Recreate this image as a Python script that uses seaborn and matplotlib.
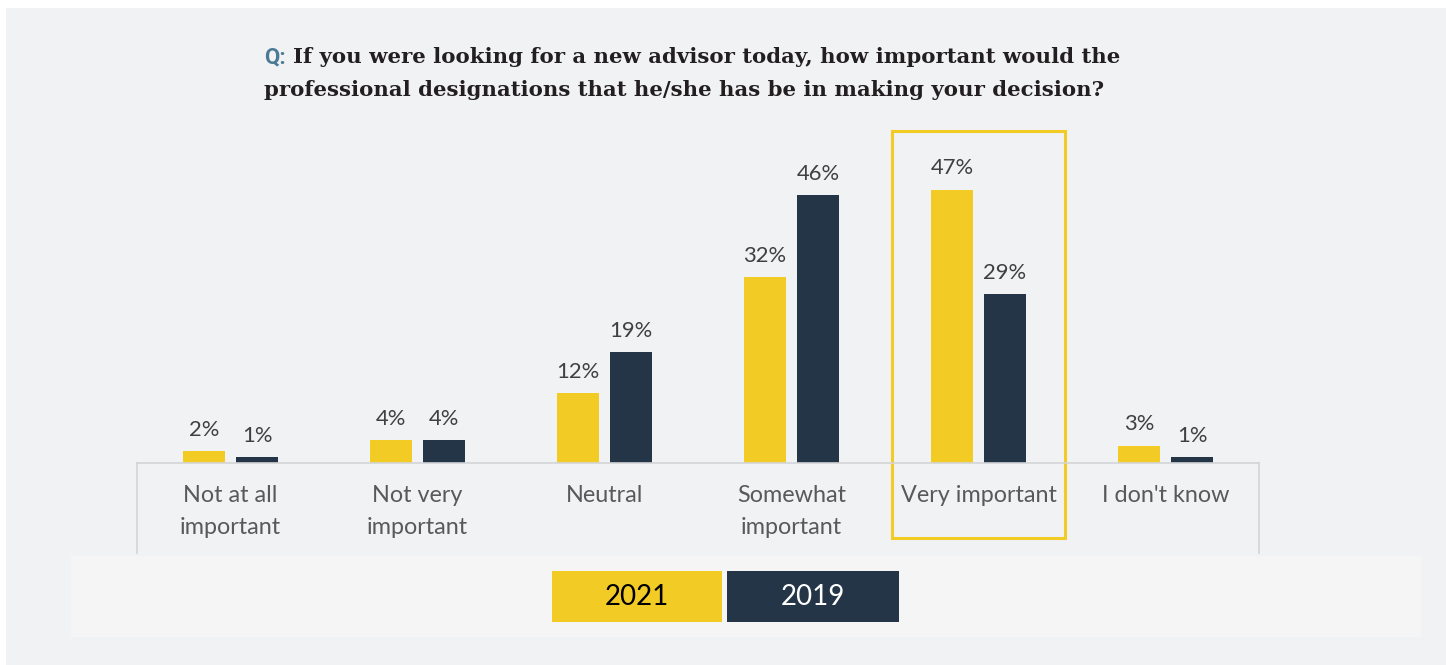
import matplotlib
matplotlib.use("Agg")
import matplotlib.pyplot as plt
from matplotlib.patches import Rectangle
from matplotlib.transforms import blended_transform_factory
import pandas as pd
import seaborn as sns

# Survey data
categories = ["Not at all\nimportant", "Not very\nimportant", "Neutral",
              "Somewhat\nimportant", "Very important", "I don't know"]
years = ["2021", "2019"]
values_2021 = [2, 4, 12, 32, 47, 3]
values_2019 = [1, 4, 19, 46, 29, 1]
highlight = "Very important"

YELLOW = "#F2CC25"
NAVY = "#243547"
PANEL = "#F1F2F4"
LEGEND_PANEL = "#F5F5F6"

df = pd.DataFrame({
    "category": categories * 2,
    "year": [years[0]] * len(categories) + [years[1]] * len(categories),
    "value": values_2021 + values_2019,
})

W, H = 1446, 665
fig = plt.figure(figsize=(W / 100, H / 100), dpi=100, facecolor="white")

def fx(px):
    return px / W

def fy(py):
    return 1 - py / H

# Background panels (kept behind the axes)
fig.patches.append(Rectangle((fx(6), 0), 1 - fx(6), fy(8), transform=fig.transFigure,
                             facecolor=PANEL, edgecolor="none", zorder=-2))
fig.patches.append(Rectangle((fx(71), fy(637)), fx(1421 - 71), (637 - 556) / H,
                             transform=fig.transFigure, facecolor=LEGEND_PANEL,
                             edgecolor="none", zorder=-1))

ax_left, ax_right, ax_bottom, ax_top = 137, 1259, 463, 143
ax = fig.add_axes([fx(ax_left), fy(ax_bottom), fx(ax_right - ax_left), (ax_bottom - ax_top) / H])
ax.set_facecolor("none")
ax.set_zorder(1)

sns.barplot(data=df, x="category", y="value", hue="year", order=categories,
            hue_order=years, palette=[YELLOW, NAVY], width=0.567, gap=0.21,
            saturation=1, legend=False, ax=ax)

ax.set_xlim(-0.5, len(categories) - 0.5)
ax.set_ylim(0, 55)
ax.set_xlabel("")
ax.set_ylabel("")
ax.set_yticks([])

label_font = "Lato"
for cont in ax.containers:
    ax.bar_label(cont, fmt="%d%%", padding=8, fontsize=15.8, color="#404040",
                 family=label_font)

ax.tick_params(axis="x", length=0, pad=16)
for lab in ax.get_xticklabels():
    lab.set_fontfamily(label_font)
    lab.set_fontsize(16.8)
    lab.set_color("#595959")
    lab.set_linespacing(1.65)

for side in ["top", "left", "right"]:
    ax.spines[side].set_visible(False)
ax.spines["bottom"].set_color("#D3D4D6")
ax.spines["bottom"].set_linewidth(1.2)

# Table side rules below the baseline
drop = (553 - ax_bottom) / (ax_bottom - ax_top)
for xa in (0, 1):
    ax.plot([xa, xa], [0, -drop], transform=ax.transAxes, color="#D3D4D6",
            lw=1.2, clip_on=False)

# Highlight frame around the top category
hi = categories.index(highlight)
trans = blended_transform_factory(ax.transData, ax.transAxes)
y0 = (ax_bottom - 538) / (ax_bottom - ax_top)
y1 = (ax_bottom - 131) / (ax_bottom - ax_top)
ax.add_patch(Rectangle((hi - 0.4625, y0), 0.925, y1 - y0, transform=trans,
                       fill=False, edgecolor=YELLOW, lw=2.2, clip_on=False))

# Title
fig.text(fx(264), fy(63), "Q:", family="Roboto", weight="bold", fontsize=16,
         color="#4C7A96", va="baseline", ha="left")
fig.text(fx(293), fy(63),
         "If you were looking for a new advisor today, how important would the",
         family="DejaVu Serif", weight="bold", fontsize=15.3, color="#231F20",
         va="baseline", ha="left")
fig.text(fx(264), fy(96),
         "professional designations that he/she has be in making your decision?",
         family="DejaVu Serif", weight="bold", fontsize=15.3, color="#231F20",
         va="baseline", ha="left")

# Legend tiles
tiles = [(552, 722, YELLOW, "black"), (727, 899, NAVY, "white")]
for (x0, x1, fc, tc), yr in zip(tiles, years):
    fig.patches.append(Rectangle((fx(x0), fy(622)), fx(x1 - x0), (622 - 571) / H,
                                 transform=fig.transFigure, facecolor=fc,
                                 edgecolor="none", zorder=1))
    fig.text(fx((x0 + x1) / 2), fy(597), yr, family=label_font, fontsize=20,
             color=tc, ha="center", va="center", zorder=2)

fig.savefig("out.png", dpi=100, facecolor="white")
